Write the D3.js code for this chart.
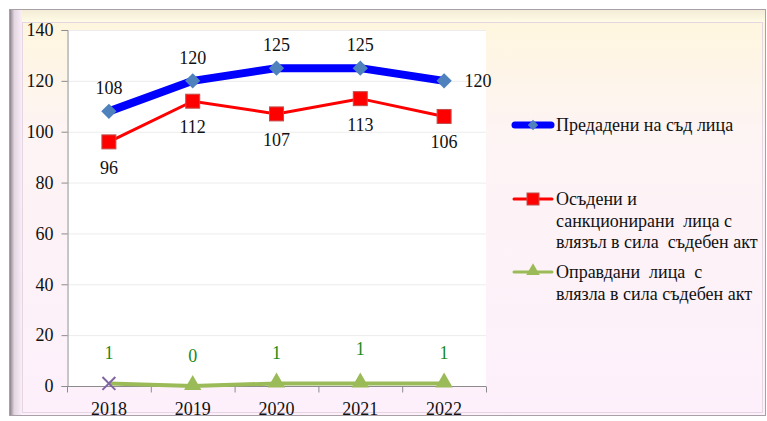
<!DOCTYPE html>
<html>
<head>
<meta charset="utf-8">
<script src="https://cdn.jsdelivr.net/npm/d3@7"></script>
<style>
  body { margin: 0; background: #fff; }
  svg { display: block; font-family: "Liberation Serif", "Times New Roman", serif; }
</style>
</head>
<body>
<svg id="chart"></svg>
<script>
const width = 767;
const height = 421;

// chart data
const years = ["2018", "2019", "2020", "2021", "2022"];
const sentToCourt = [108, 120, 125, 125, 120];
const convicted = [96, 112, 107, 113, 106];
const acquitted = [1, 0, 1, 1, 1];
const yTicks = [0, 20, 40, 60, 80, 100, 120, 140];
const legendLabels = [
    ["Предадени на съд лица"],
    ["Осъдени и", "санкционирани  лица с", "влязъл в сила  съдебен акт"],
    ["Оправдани  лица  с", "влязла в сила съдебен акт"]
];

const svg = d3.select("#chart")
    .attr("width", width)
    .attr("height", height);

const defs = svg.append("defs");

// frame background gradient (cream at top, pink at bottom)
const bg = defs.append("linearGradient")
    .attr("id", "bg").attr("x1", 0).attr("y1", 0).attr("x2", 0).attr("y2", 1);
bg.append("stop").attr("offset", "0%").attr("stop-color", "#fff6dc");
bg.append("stop").attr("offset", "30%").attr("stop-color", "#fdf4f4");
bg.append("stop").attr("offset", "100%").attr("stop-color", "#fdf0fc");

const leftBevel = defs.append("linearGradient")
    .attr("id", "leftBevel").attr("x1", 0).attr("y1", 0).attr("x2", 1).attr("y2", 0);
leftBevel.append("stop").attr("offset", "0%").attr("stop-color", "#8f848d");
leftBevel.append("stop").attr("offset", "35%").attr("stop-color", "#e2d6e0");
leftBevel.append("stop").attr("offset", "100%").attr("stop-color", "#fbeefa");

const topBevel = defs.append("linearGradient")
    .attr("id", "topBevel").attr("x1", 0).attr("y1", 0).attr("x2", 0).attr("y2", 1);
topBevel.append("stop").attr("offset", "0%").attr("stop-color", "#f3ecd6");
topBevel.append("stop").attr("offset", "100%").attr("stop-color", "#fffbe6");

// outer frame
svg.append("rect")
    .attr("x", 9.5).attr("y", 9.5)
    .attr("width", 756).attr("height", 406)
    .attr("fill", "url(#bg)")
    .attr("stroke", "#a8a0a6");

svg.append("rect")
    .attr("x", 10).attr("y", 10).attr("width", 12).attr("height", 405)
    .attr("fill", "url(#leftBevel)");
svg.append("rect")
    .attr("x", 22).attr("y", 10).attr("width", 743).attr("height", 12)
    .attr("fill", "url(#topBevel)");

svg.append("rect")
    .attr("x", 22.5).attr("y", 22.5)
    .attr("width", 740).attr("height", 390)
    .attr("fill", "none")
    .attr("stroke", "#e6d6e2");

// plot area
const plot = { left: 67, right: 486, top: 30, bottom: 386 };

const x = d3.scaleBand()
    .domain(years)
    .range([plot.left, plot.right]);

const y = d3.scaleLinear()
    .domain([0, 140])
    .range([plot.bottom, plot.top]);

svg.append("rect")
    .attr("x", plot.left).attr("y", plot.top)
    .attr("width", plot.right - plot.left)
    .attr("height", plot.bottom - plot.top)
    .attr("fill", "#fff");

// gridlines
svg.append("g")
    .selectAll("line")
    .data(yTicks.filter(d => d > 0))
    .join("line")
    .attr("x1", plot.left).attr("x2", plot.right)
    .attr("y1", d => y(d) + 0.5).attr("y2", d => y(d) + 0.5)
    .attr("stroke", "#ececec");

// y axis
const yAxis = svg.append("g")
    .attr("transform", `translate(${plot.left + 0.5},0)`)
    .call(d3.axisLeft(y).tickValues(yTicks).tickSize(6).tickPadding(8));
yAxis.select(".domain").attr("stroke", "#8c8c8c");
yAxis.selectAll(".tick line").attr("stroke", "#8c8c8c");
yAxis.selectAll(".tick text")
    .attr("font-size", 18)
    .attr("font-family", "Liberation Serif, serif")
    .attr("fill", "#111");

// x axis with ticks at the band edges
const xAxis = svg.append("g")
    .attr("transform", `translate(0,${plot.bottom + 0.5})`);
xAxis.append("line")
    .attr("x1", plot.left).attr("x2", plot.right)
    .attr("stroke", "#8c8c8c");
xAxis.selectAll(".edge")
    .data(years.concat(["end"]))
    .join("line")
    .attr("class", "edge")
    .attr("x1", (d, i) => plot.left + i * x.bandwidth() + 0.5)
    .attr("x2", (d, i) => plot.left + i * x.bandwidth() + 0.5)
    .attr("y1", 0).attr("y2", 6)
    .attr("stroke", "#8c8c8c");
xAxis.selectAll("text")
    .data(years)
    .join("text")
    .attr("x", d => x(d) + x.bandwidth() / 2)
    .attr("y", 28)
    .attr("text-anchor", "middle")
    .attr("font-size", 18)
    .attr("fill", "#111")
    .text(d => d);

const cx = (d, i) => x(years[i]) + x.bandwidth() / 2;

const line = d3.line()
    .x((d, i) => cx(d, i))
    .y(d => y(d));

// green series: acquitted
svg.append("path")
    .datum(acquitted)
    .attr("d", line)
    .attr("fill", "none")
    .attr("stroke", "#9bbb59")
    .attr("stroke-width", 4);

const triangle = d3.symbol().type(d3.symbolTriangle).size(130);
svg.append("g")
    .selectAll("path")
    .data(acquitted.slice(1))
    .join("path")
    .attr("transform", (d, i) => `translate(${cx(d, i + 1)},${y(d) - 1})`)
    .attr("d", triangle)
    .attr("fill", "#9bbb59");

// first point is drawn as a cross
svg.append("path")
    .attr("transform", `translate(${cx(acquitted[0], 0)},${y(acquitted[0])})`)
    .attr("d", d3.symbol().type(d3.symbolX).size(110))
    .attr("fill", "none")
    .attr("stroke", "#8064a2")
    .attr("stroke-width", 2);

// red series: convicted
svg.append("path")
    .datum(convicted)
    .attr("d", line)
    .attr("fill", "none")
    .attr("stroke", "#ff0000")
    .attr("stroke-width", 3);

svg.append("g")
    .selectAll("rect")
    .data(convicted)
    .join("rect")
    .attr("x", (d, i) => cx(d, i) - 7)
    .attr("y", d => y(d) - 7)
    .attr("width", 14).attr("height", 14)
    .attr("fill", "#ff0000")
    .attr("stroke", "#c0504d")
    .attr("stroke-width", 1);

// blue series: sent to court
svg.append("path")
    .datum(sentToCourt)
    .attr("d", line)
    .attr("fill", "none")
    .attr("stroke", "#0000ff")
    .attr("stroke-width", 8)
    .attr("stroke-linejoin", "round");

const diamond = d3.symbol().type(d3.symbolDiamond2).size(150);
svg.append("g")
    .selectAll("path")
    .data(sentToCourt)
    .join("path")
    .attr("transform", (d, i) => `translate(${cx(d, i)},${y(d)})`)
    .attr("d", diamond)
    .attr("fill", "#4f81bd");

// data labels
const labels = svg.append("g")
    .attr("font-size", 18)
    .attr("text-anchor", "middle");

labels.selectAll(".lblBlue")
    .data(sentToCourt)
    .join("text")
    .attr("class", "lblBlue")
    .attr("x", (d, i) => i === 4 ? cx(d, i) + 34 : cx(d, i))
    .attr("y", (d, i) => i === 4 ? y(d) + 6 : y(d) - 17)
    .attr("fill", "#111")
    .text(d => d);

labels.selectAll(".lblRed")
    .data(convicted)
    .join("text")
    .attr("class", "lblRed")
    .attr("x", (d, i) => cx(d, i))
    .attr("y", d => y(d) + 32)
    .attr("fill", "#111")
    .text(d => d);

labels.selectAll(".lblGreen")
    .data(acquitted)
    .join("text")
    .attr("class", "lblGreen")
    .attr("x", (d, i) => cx(d, i))
    .attr("y", (d, i) => y(d) - (i === 3 ? 28 : 24))
    .attr("fill", "#1a8a1a")
    .text(d => d);

// legend
const legend = svg.append("g").attr("font-size", 18).attr("fill", "#111");
const legendY = [125, 199, 272];

const blueKey = legend.append("g").attr("transform", `translate(0,${legendY[0]})`);
blueKey.append("line")
    .attr("x1", 515).attr("x2", 551)
    .attr("stroke", "#0000ff").attr("stroke-width", 7).attr("stroke-linecap", "round");
blueKey.append("path")
    .attr("transform", "translate(533,0)")
    .attr("d", d3.symbol().type(d3.symbolDiamond2).size(70))
    .attr("fill", "#4f81bd");

const redKey = legend.append("g").attr("transform", `translate(0,${legendY[1]})`);
redKey.append("line")
    .attr("x1", 514).attr("x2", 552)
    .attr("stroke", "#ff0000").attr("stroke-width", 3).attr("stroke-linecap", "round");
redKey.append("rect")
    .attr("x", 527).attr("y", -6).attr("width", 12).attr("height", 12)
    .attr("fill", "#ff0000").attr("stroke", "#c0504d");

const greenKey = legend.append("g").attr("transform", `translate(0,${legendY[2]})`);
greenKey.append("line")
    .attr("x1", 514).attr("x2", 552)
    .attr("stroke", "#9bbb59").attr("stroke-width", 3).attr("stroke-linecap", "round");
greenKey.append("path")
    .attr("transform", "translate(533,-1)")
    .attr("d", d3.symbol().type(d3.symbolTriangle).size(80))
    .attr("fill", "#9bbb59");

legendLabels.forEach((lines, k) => {
    legend.append("text")
        .attr("x", 556)
        .attr("y", legendY[k] + 6)
        .attr("xml:space", "preserve")
        .selectAll("tspan")
        .data(lines)
        .join("tspan")
        .attr("x", 556)
        .attr("dy", (d, i) => i === 0 ? 0 : 21.5)
        .text(d => d);
});
</script>
</body>
</html>
